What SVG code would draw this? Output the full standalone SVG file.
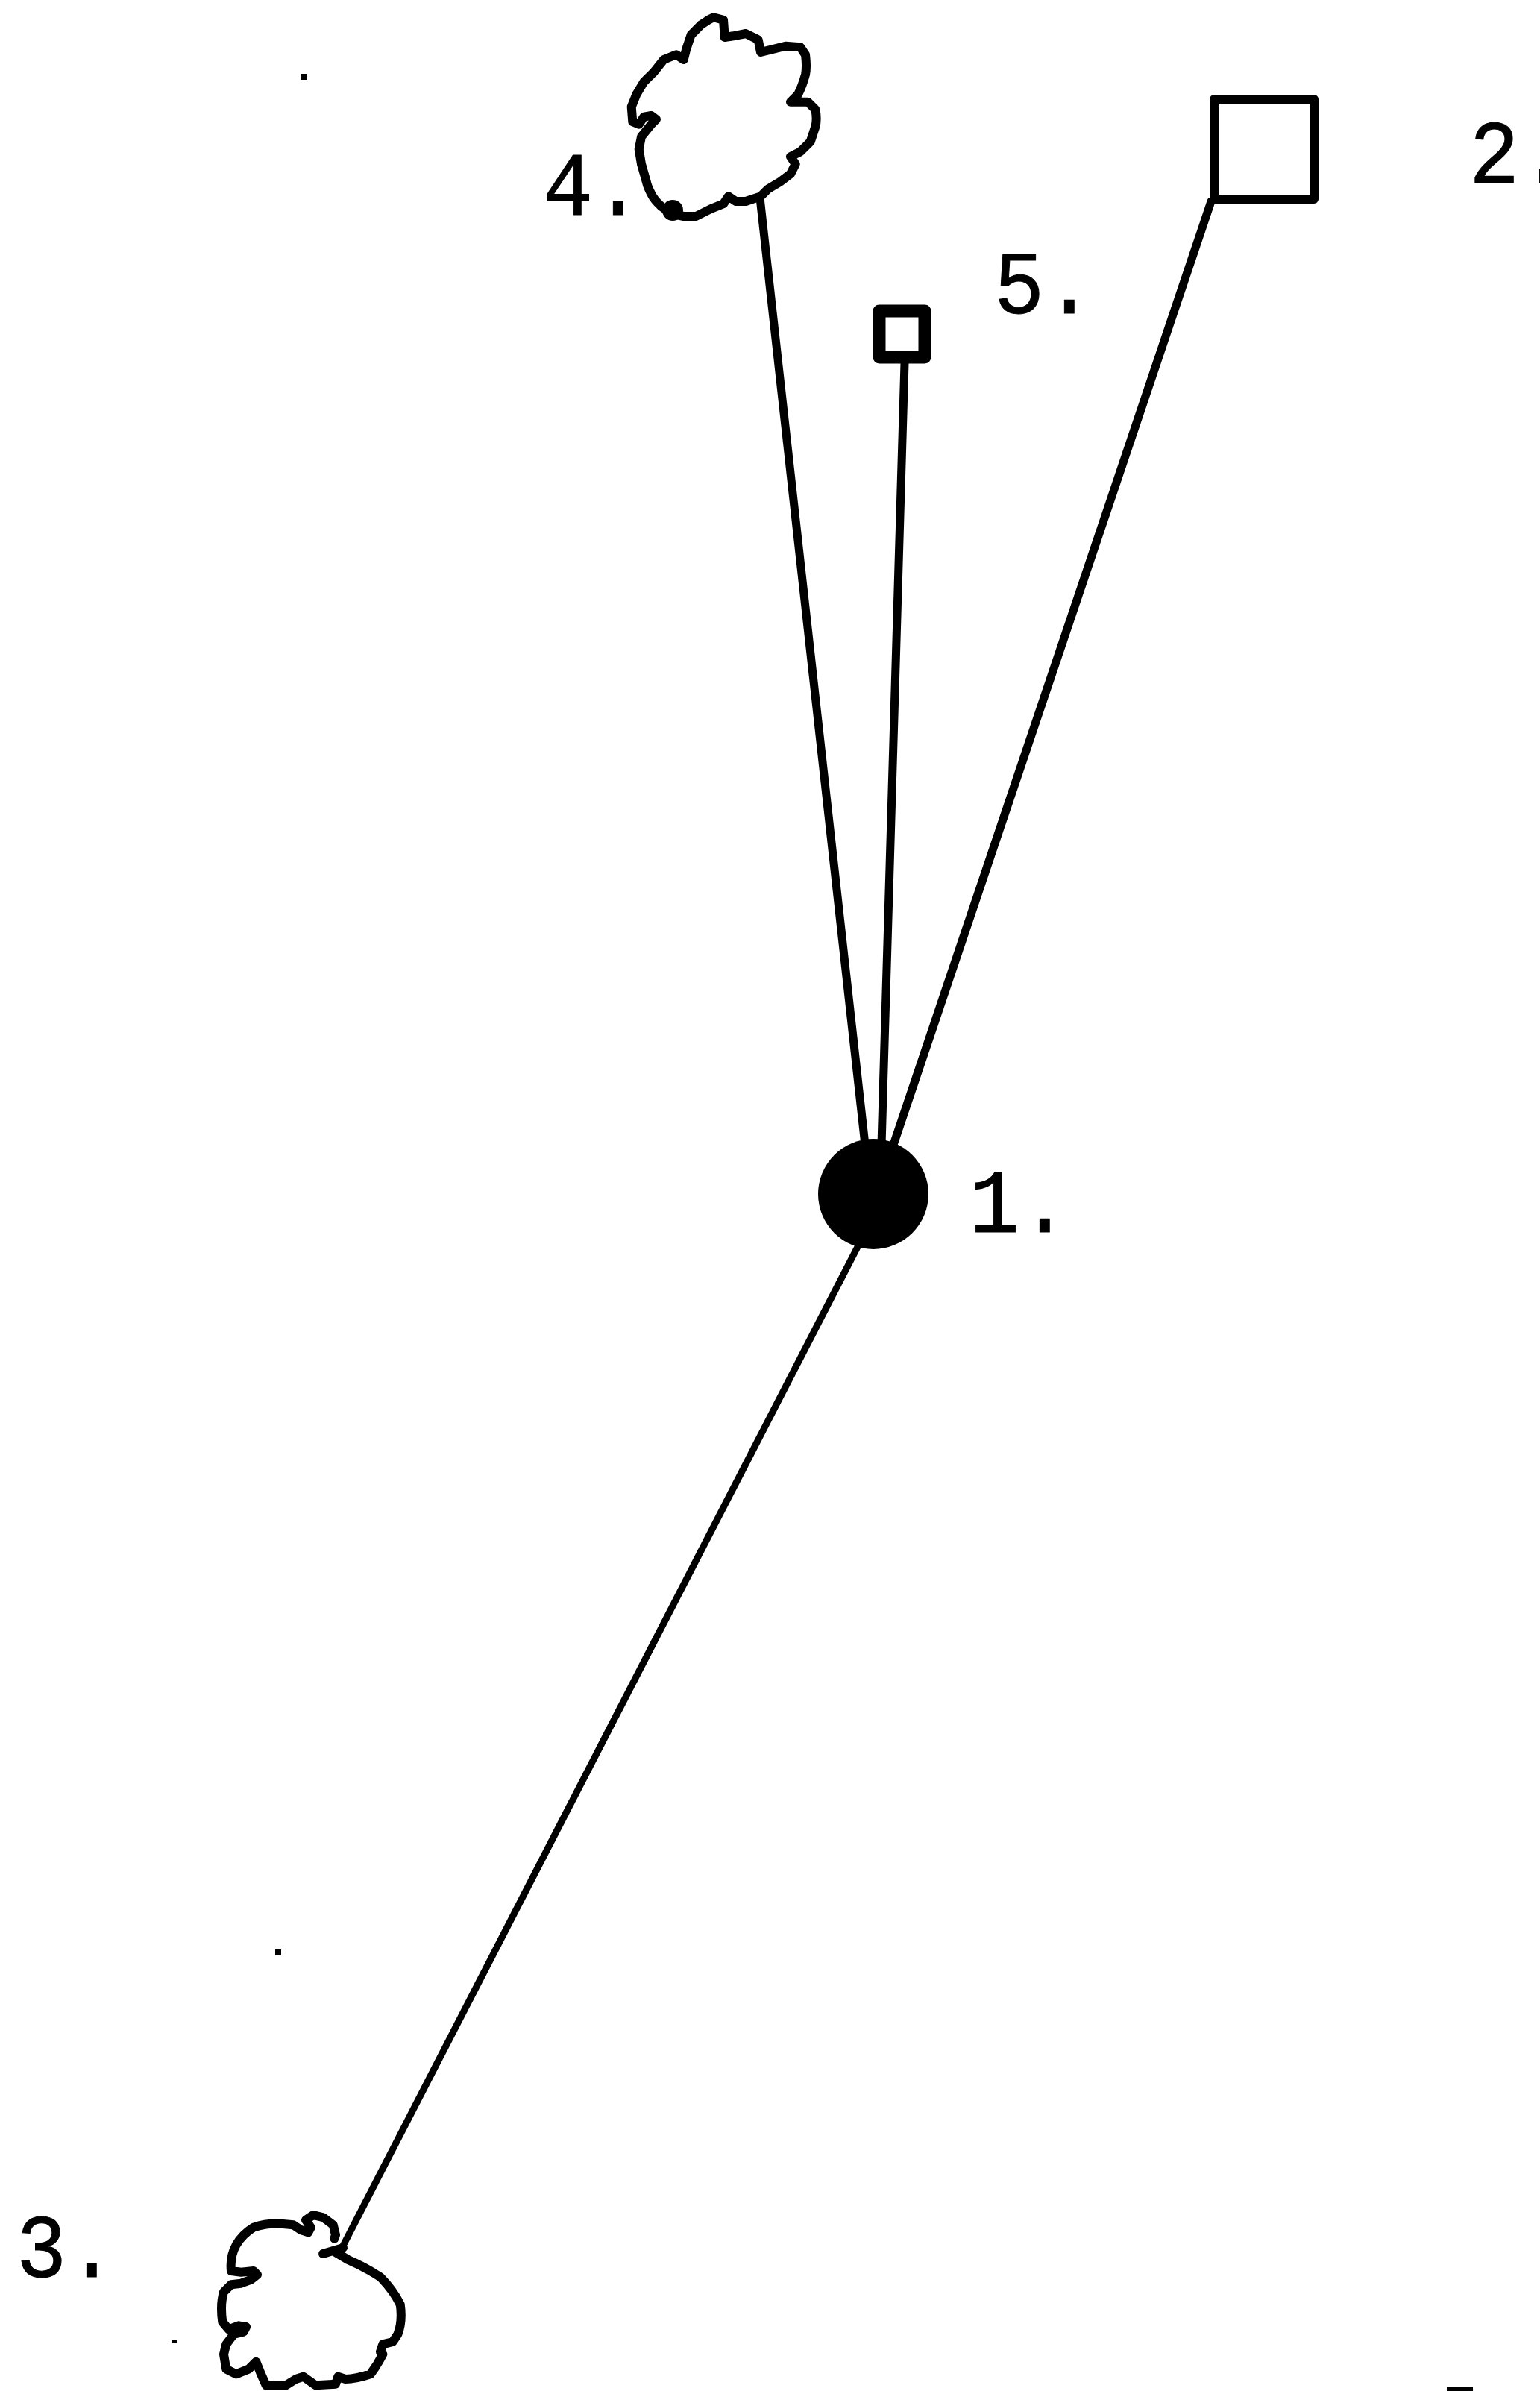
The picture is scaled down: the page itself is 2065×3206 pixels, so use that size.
<svg xmlns="http://www.w3.org/2000/svg" width="2065" height="3206" viewBox="0 0 2065 3206">
<style>
.bg{fill:#ffffff}
.edge{fill:none;stroke:#000;stroke-width:11;stroke-linecap:round}
.outline{fill:none;stroke:#000;stroke-width:12;stroke-linejoin:round;stroke-linecap:round}
.box{fill:none;stroke:#000;stroke-width:12;stroke-linejoin:round}
.lbl{font-family:"Liberation Mono","Courier New",monospace;font-size:112px;fill:#000;stroke:#000;stroke-width:1}
.speck{fill:#000}
</style>
<rect class="bg" x="0" y="0" width="2065" height="3206"/>
<g id="connectors">
<line class="edge" x1="1019" y1="265" x2="1160" y2="1535"/>
<line class="edge" x1="1213" y1="487" x2="1182" y2="1535"/>
<line class="edge" x1="1624" y1="270" x2="1198" y2="1535"/>
<line class="edge" style="stroke-width:9" x1="1152" y1="1668" x2="457" y2="3017"/>
</g>
<g id="node-1">
<circle cx="1171" cy="1601" r="74" fill="#000"/>
<text class="lbl" transform="translate(1300,1652) scale(1,1.08)">1.</text>
</g>
<g id="node-2">
<rect class="box" x="1628" y="133" width="134" height="134"/>
<text class="lbl" transform="translate(1970,245) scale(1,1.08)">2.</text>
</g>
<g id="node-3">
<path class="outline" d="M450,3020 L466.7,3030 Q490,3040 510,3053.3 Q526.7,3070 536.7,3090 Q540,3113 533.3,3130 L526.7,3140 L513.3,3143.3 L510,3153.3 L513.3,3156.7 Q506.7,3170 496.7,3183.3 Q476.7,3190 463.3,3190 L453.3,3186.7 L450,3196.7 L423.3,3198.3 L406.7,3186.7 L396.7,3190 L383.3,3198.3 L356.7,3198.3 L350,3183.3 L343.3,3166.7 L333.3,3176.7 L316.7,3183.3 L303.3,3176.7 L300,3156.7 L303.3,3143.3 L313.3,3130 L326.7,3126.7 L330,3120 L320,3118.3 L306.7,3123.3 L298.3,3113.3 Q295,3090 300,3073.3 L310,3063.3 L323.3,3061.7 L336.7,3056.7 L345,3050 L340,3045 L323.3,3046.7 L310,3045 Q308,3026 316.7,3010 Q325,2996 340,2986.7 Q356,2981 376.7,2981.7 L393.3,2983.3 L403.3,2990 L413.3,2993.3 L416.7,2986.7 L410,2976.7 L420,2970 L433.3,2973.3 L446.7,2983.3 L450,2996.7 L448.3,3001.7"/>
<path class="outline" d="M433,3022 L460,3014"/>
<text class="lbl" transform="translate(22,3053) scale(1,1.08)">3.</text>
</g>
<g id="node-4">
<path class="outline" d="M956.7,23.3 L970,26.7 L971.7,50 L983.3,48.3 L1000,45 L1016.7,53.3 L1020,70 L1033.3,66.7 L1053.3,61.7 L1073.3,63.3 L1080,73.3 Q1082,90 1080,100 Q1076,115 1070,126.7 L1060,136.7 L1083.3,136.7 L1093.3,146.7 Q1096,160 1093.3,170 L1086.7,190 L1073.3,203.3 L1060,210 L1066.7,220 L1060,233.3 L1046.7,243.3 L1030,253.3 L1020,263.3 L1000,270 L986.7,270 L976.7,263.3 L970,273.3 L953.3,280 L933.3,290 L916.7,290 L900,286.7 L886.7,276.7 Q877,268 873.3,260 Q868,250 866.7,243.3 L860,220 L856.7,200 L860,183.3 L873.3,166.7 L880,160 L873.3,155 L863.3,156.7 L856.7,166.7 L848.3,163.3 L846.7,143.3 L853.3,126.7 L863.3,110 L876.7,96.7 L890,80 L906.7,73.3 L916.7,80 L920,66.7 L926.7,46.7 L940,33.3 L950,26.7 Z"/>
<circle cx="902" cy="282" r="14" fill="#000"/>
<text class="lbl" transform="translate(728,288) scale(1,1.08)">4.</text>
</g>
<g id="node-5">
<rect class="box" style="stroke-width:17" x="1179" y="417" width="61" height="62"/>
<text class="lbl" transform="translate(1333,420) scale(1,1.08)">5.</text>
</g>
<g id="specks">
<rect class="speck" x="404" y="99" width="8" height="8"/>
<rect class="speck" x="369" y="2614" width="8" height="8"/>
<rect class="speck" x="231" y="3137" width="6" height="5"/>
<rect class="speck" x="1940" y="3201" width="35" height="5"/>
</g>
</svg>
